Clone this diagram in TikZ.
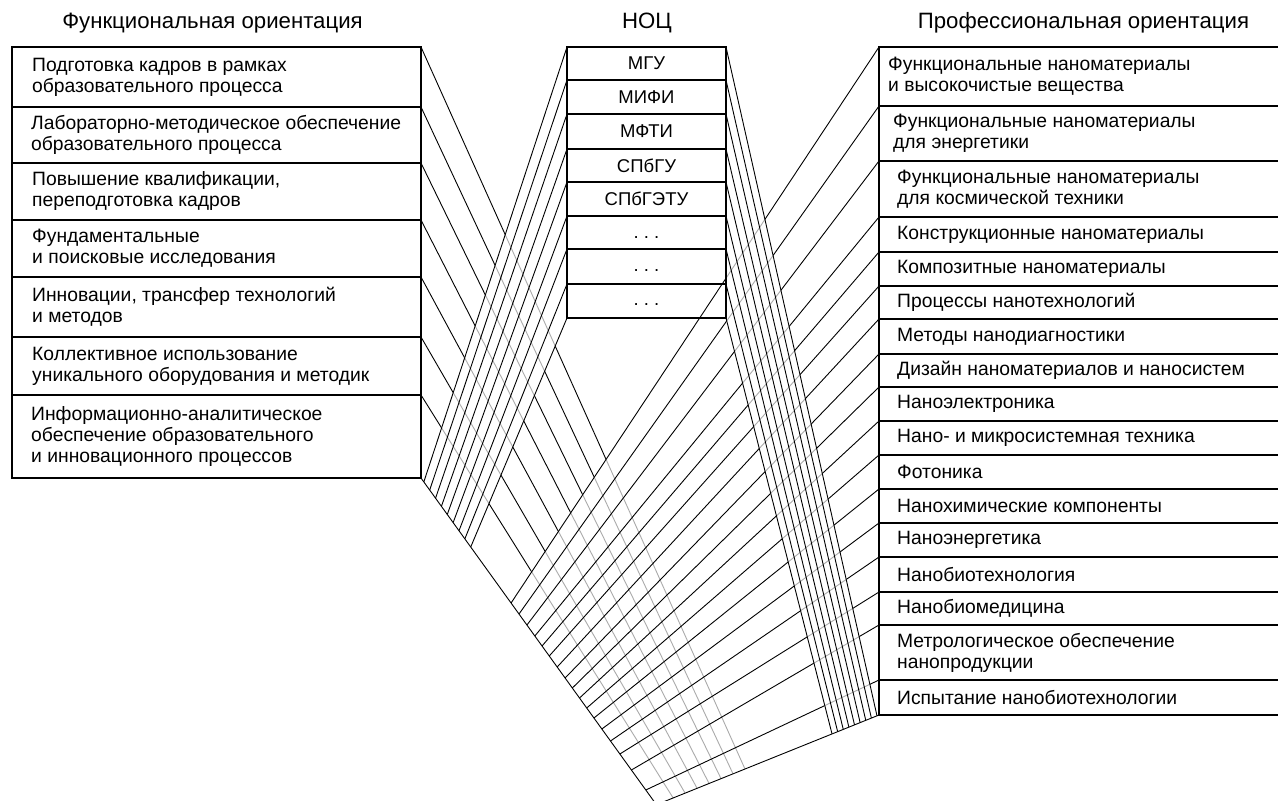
\documentclass[tikz,border=0pt]{standalone}
\usepackage{fontspec}
\setmainfont{Liberation Sans}
\usetikzlibrary{calc}
\newcommand\bodyfnt{\fontsize{19.3}{21}\selectfont}
\newcommand\midfnt{\fontsize{18.5}{21}\selectfont}
\newcommand\titlefnt{\fontsize{22.2}{24}\selectfont}
\begin{document}
\begin{tikzpicture}[x=1pt,y=-1pt,
  boxline/.style={line width=1.4pt},
  conn/.style={line width=0.9pt},
  hid/.style={line width=0.9pt, draw=black!33},
  ltxt/.style={anchor=west, align=left, inner sep=0pt, font=\bodyfnt},
  mtxt/.style={anchor=center, inner sep=0pt, font=\midfnt},
  ttl/.style={anchor=center, inner sep=0pt, font=\titlefnt}]
\useasboundingbox (0,0) rectangle (1278,801);
\clip (0,0) rectangle (1278,801);

% --- anchor points ---
\coordinate (A) at (421,478);
\coordinate (B) at (879,715);
\coordinate (V) at (656.4,804.7);
\foreach \y [count=\j from 0] in {47,80,114,149,182,216,249,284,318} {
  \coordinate (mls\j) at (567,\y);
  \coordinate (mrs\j) at (726,\y);
  \coordinate (mle\j) at ($(A)!{0.012+0.0249*\j}!(V)$);
  \coordinate (mre\j) at ($(B)!{0.009+0.02525*\j}!(V)$);
}
\foreach \y [count=\i from 0] in {47,107,163,220,277,337,395} {
  \coordinate (ls\i) at (421,\y);
  \coordinate (le\i) at ($(B)!{0.602+0.0538*\i}!(V)$);
}
\foreach \y/\t [count=\k from 0] in {47/0.3826,106/0.4163,161/0.450,217/0.4836,252/0.5142,286/0.5448,319/0.5785,354/0.6122,387/0.6428,421/0.6734,455/0.704,489/0.7346,523/0.7683,557/0.805,592/0.8448,625/0.8938,680/0.955} {
  \coordinate (rs\k) at (879,\y);
  \coordinate (re\k) at ($(A)!\t!(V)$);
}

% --- lines from the left boxes ---
\foreach \i in {0,...,6} \draw[conn] (ls\i) -- (le\i);
\fill[white] (mls0) -- (mls8) -- (mle8) -- (mle0) -- cycle;
\fill[white] (rs0) -- (re0) -- (V) -- (B) -- cycle;
\begin{scope}
  \clip (mls0) -- (mls8) -- (mle8) -- (mle0) -- cycle;
  \foreach \i in {0,...,6} \draw[hid] (ls\i) -- (le\i);
\end{scope}
\begin{scope}
  \clip (rs0) -- (re0) -- (V) -- (B) -- cycle;
  \foreach \i in {0,...,6} \draw[hid] (ls\i) -- (le\i);
\end{scope}

% --- lines from the right boxes ---
\foreach \k in {0,...,16} \draw[conn] (rs\k) -- (re\k);
\fill[white] (mrs0) -- (mre0) -- (mre8) -- (mrs8) -- cycle;
\begin{scope}
  \clip (mrs0) -- (mre0) -- (mre8) -- (mrs8) -- cycle;
  \foreach \k in {0,...,16} \draw[hid] (rs\k) -- (re\k);
\end{scope}

% --- lines from the middle boxes ---
\foreach \j in {0,...,8} {
  \draw[conn] (mls\j) -- (mle\j);
  \draw[conn] (mrs\j) -- (mre\j);
}
\draw[conn] (A) -- (V) -- (B);

% --- boxes ---
\foreach \a/\b in {47/107,107/163,163/220,220/277,277/337,337/395,395/478}
  \draw[boxline] (12,\a) rectangle (421,\b);
\foreach \a/\b in {47/80,80/114,114/149,149/182,182/216,216/249,249/284,284/318}
  \draw[boxline] (567,\a) rectangle (726,\b);
\foreach \a/\b in {47/106,106/161,161/217,217/252,252/286,286/319,319/354,354/387,387/421,421/455,455/489,489/523,523/557,557/592,592/625,625/680,680/715}
  \draw[boxline] (879,\a) rectangle (1281,\b);

% --- titles ---
\node[ttl] (t1) at (212.5,23) {Функциональная ориентация};
\node[ttl] (t2) at (647,23) {НОЦ};
\node[ttl] (t3) at (1083.5,23) {Профессиональная ориентация};

% --- left texts ---
\node[ltxt] (lt1) at (32,77) {Подготовка кадров в рамках\\образовательного процесса};
\node[ltxt] (lt2) at (31,135) {Лабораторно-методическое обеспечение\\образовательного процесса};
\node[ltxt] (lt3) at (32,191.5) {Повышение квалификации,\\переподготовка кадров};
\node[ltxt] (lt4) at (32,248.5) {Фундаментальные\\и поисковые исследования};
\node[ltxt] (lt5) at (32,307) {Инновации, трансфер технологий\\и методов};
\node[ltxt] (lt6) at (32,366) {Коллективное использование\\уникального оборудования и методик};
\node[ltxt] (lt7) at (31,436.5) {Информационно-аналитическое\\обеспечение образовательного\\и инновационного процессов};

% --- middle texts ---
\node[mtxt] (mt1) at (646.5,63.5) {МГУ};
\node[mtxt] (mt2) at (646.5,97) {МИФИ};
\node[mtxt] (mt3) at (646.5,131.5) {МФТИ};
\node[mtxt] (mt4) at (646.5,165.5) {СПбГУ};
\node[mtxt] (mt5) at (646.5,199) {СПбГЭТУ};
\node[mtxt] (mt6) at (646.5,238) {.\ .\ .};
\node[mtxt] (mt7) at (646.5,271) {.\ .\ .};
\node[mtxt] (mt8) at (646.5,305) {.\ .\ .};

% --- right texts ---
\node[ltxt] (rt1) at (888,76.5) {Функциональные наноматериалы\\и высокочистые вещества};
\node[ltxt] (rt2) at (893,133.5) {Функциональные наноматериалы\\для энергетики};
\node[ltxt] (rt3) at (897,189) {Функциональные наноматериалы\\для космической техники};
\node[ltxt] (rt4) at (897,234.5) {Конструкционные наноматериалы};
\node[ltxt] (rt5) at (897,269) {Композитные наноматериалы};
\node[ltxt] (rt6) at (897,302.5) {Процессы нанотехнологий};
\node[ltxt] (rt7) at (897,336.5) {Методы нанодиагностики};
\node[ltxt] (rt8) at (897,370.5) {Дизайн наноматериалов и наносистем};
\node[ltxt] (rt9) at (897,404) {Наноэлектроника};
\node[ltxt] (rt10) at (897,438) {Нано- и микросистемная техника};
\node[ltxt] (rt11) at (897,472) {Фотоника};
\node[ltxt] (rt12) at (897,506) {Нанохимические компоненты};
\node[ltxt] (rt13) at (897,540) {Наноэнергетика};
\node[ltxt] (rt14) at (897,574.5) {Нанобиотехнология};
\node[ltxt] (rt15) at (897,608.5) {Нанобиомедицина};
\node[ltxt] (rt16) at (897,652.5) {Метрологическое обеспечение\\нанопродукции};
\node[ltxt] (rt17) at (897,697.5) {Испытание нанобиотехнологии};
\end{tikzpicture}
\end{document}
